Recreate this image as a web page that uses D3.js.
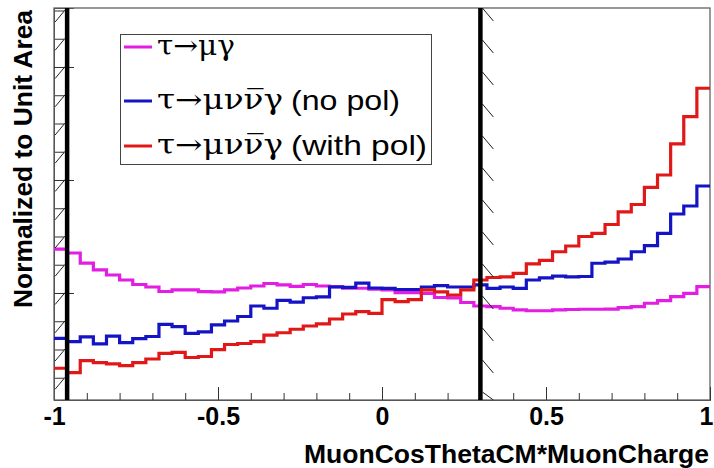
<!DOCTYPE html>
<html><head><meta charset="utf-8">
<script src="https://cdn.jsdelivr.net/npm/d3@7"></script>
<style>
html,body{margin:0;padding:0;background:#fff;}
svg{display:block;}
</style></head>
<body>
<svg id="chart" width="714" height="468"></svg>
<script>
// ---------- data ----------
const xRange = [-1, 1];
const nBins = 50;
const yRange = [0.01053, 0.04522];
const xMajorTicks = [-1, -0.5, 0, 0.5, 1];
const xTickLabels = ["-1", "-0.5", "0", "0.5", "1"];
const yMajorTicks = [0.02, 0.03, 0.04];
const cutValues = [-0.96, 0.3];

const muGamma = [0.02389,0.02354,0.02265,0.02204,0.02159,0.02115,0.02075,0.02053,0.02013,0.02027,
0.02027,0.02012,0.02009,0.02027,0.02044,0.02062,0.02084,0.02071,0.02058,0.02075,
0.02062,0.02056,0.02042,0.02042,0.02033,0.02027,0.02003,0.02003,0.01997,0.01960,
0.01956,0.01916,0.01885,0.01879,0.01865,0.01850,0.01843,0.01843,0.01850,0.01854,
0.01856,0.01856,0.01858,0.01870,0.01879,0.01909,0.01932,0.01967,0.01997,0.02056];

const noPol = [0.01599,0.01569,0.01611,0.01549,0.01619,0.01560,0.01597,0.01615,0.01723,0.01702,
0.01642,0.01655,0.01717,0.01752,0.01792,0.01885,0.01865,0.01934,0.01920,0.01958,
0.01965,0.02053,0.02049,0.02088,0.02044,0.02040,0.02031,0.02031,0.02053,0.02066,
0.02053,0.02053,0.02071,0.02040,0.02053,0.02040,0.02115,0.02133,0.02150,0.02142,
0.02146,0.02263,0.02274,0.02301,0.02365,0.02420,0.02527,0.02699,0.02770,0.02947];

const withPol = [0.01334,0.01295,0.01401,0.01383,0.01372,0.01357,0.01383,0.01416,0.01466,0.01475,
0.01429,0.01438,0.01498,0.01544,0.01553,0.01570,0.01628,0.01648,0.01679,0.01708,
0.01726,0.01770,0.01814,0.01835,0.01820,0.01942,0.01923,0.01941,0.02027,0.02009,
0.01982,0.02027,0.02115,0.02137,0.02142,0.02173,0.02257,0.02288,0.02365,0.02416,
0.02500,0.02528,0.02606,0.02717,0.02783,0.02935,0.03044,0.03319,0.03560,0.03812];

const seriesNames = ["τ→μγ", "τ→μνν\u0305γ", "τ→μνν\u0305γ"];
const seriesSuffix = ["", "(no pol)", "(with pol)"];
const seriesColors = ["#e21ee2", "#1414c4", "#e01818"];
const xTitle = "MuonCosThetaCM*MuonCharge";
const yTitle = "Normalized to Unit Area";

// ---------- layout ----------
const svg = d3.select("#chart");
const L = 54, R = 710, T = 8, B = 400;
const x = d3.scaleLinear().domain(xRange).range([L, R]);
const y = d3.scaleLinear().domain(yRange).range([B, T]);
const binW = (xRange[1] - xRange[0]) / nBins;
const edges = d3.range(nBins + 1).map(i => xRange[0] + i * binW);

svg.append("defs").append("clipPath").attr("id", "clip")
  .append("rect").attr("x", L).attr("y", T).attr("width", R - L).attr("height", B - T);

// frame
svg.append("rect").attr("x", L).attr("y", T).attr("width", R - L).attr("height", B - T)
  .attr("fill", "none").attr("stroke", "#555").attr("stroke-width", 1.2);

// x axis ticks
const xMinor = d3.range(0, 21).map(i => -1 + i * 0.1);
const gxMin = svg.append("g").attr("transform", `translate(0,${B})`)
  .call(d3.axisBottom(x).tickValues(xMinor).tickSize(-7).tickFormat(""));
const gxMaj = svg.append("g").attr("transform", `translate(0,${B})`)
  .call(d3.axisBottom(x).tickValues(xMajorTicks).tickSize(-13).tickPadding(7)
    .tickFormat((d, i) => xTickLabels[i]));
[gxMin, gxMaj].forEach(g => { g.select(".domain").attr("stroke", "#555"); g.selectAll("line").attr("stroke", "#333"); });
gxMaj.selectAll("text").attr("font-family", "Liberation Sans, Arial, sans-serif")
  .attr("font-weight", "bold").attr("font-size", 25).attr("fill", "#000");
gxMaj.selectAll("text").filter(d => d === xRange[1]).attr("text-anchor", "end").attr("dx", 3);

// y axis ticks
const yMinor = d3.range(0, 14).map(i => 0.0125 + i * 0.0025);
const gyMin = svg.append("g").attr("transform", `translate(${L},0)`)
  .call(d3.axisLeft(y).tickValues(yMinor).tickSize(-10).tickFormat(""));
const gyMaj = svg.append("g").attr("transform", `translate(${L},0)`)
  .call(d3.axisLeft(y).tickValues(yMajorTicks).tickSize(-20).tickFormat(""));
[gyMin, gyMaj].forEach(g => { g.select(".domain").attr("stroke", "#555"); g.selectAll("line").attr("stroke", "#333"); });

// histograms
const step = d3.line().x(d => x(d[0])).y(d => y(d[1])).curve(d3.curveStepAfter);
const gh = svg.append("g").attr("clip-path", "url(#clip)");
[muGamma, noPol, withPol].forEach((vals, k) => {
  const pts = vals.map((v, i) => [edges[i], v]);
  pts.push([edges[nBins], vals[nBins - 1]]);
  gh.append("path").attr("d", step(pts)).attr("fill", "none")
    .attr("stroke", seriesColors[k]).attr("stroke-width", 3.2).attr("stroke-linejoin", "miter");
});

// cut lines with hatching
const xl = x(cutValues[0]), xr = x(cutValues[1]);
const gc = svg.append("g");
for (let yy = 10; yy < B - 2; yy += 28.25) {
  gc.append("line").attr("x1", xl - 12).attr("y1", Math.min(yy + 12, B)).attr("x2", xl - 2).attr("y2", yy)
    .attr("stroke", "#222").attr("stroke-width", 1);
}
for (let yy = 8; yy < B - 2; yy += 32) {
  gc.append("line").attr("x1", xr + 2).attr("y1", yy).attr("x2", xr + 13).attr("y2", Math.min(yy + 13, B))
    .attr("stroke", "#222").attr("stroke-width", 1);
}
[xl, xr].forEach(xx => gc.append("line").attr("x1", xx).attr("x2", xx).attr("y1", T).attr("y2", B)
  .attr("stroke", "#000").attr("stroke-width", 4.5));

// titles
svg.append("text").attr("x", 709).attr("y", 463).attr("text-anchor", "end")
  .attr("font-family", "Liberation Sans, Arial, sans-serif").attr("font-weight", "bold")
  .attr("font-size", 25).attr("textLength", 405).attr("lengthAdjust", "spacingAndGlyphs").text(xTitle);
svg.append("text").attr("transform", "translate(32,10) rotate(-90)").attr("text-anchor", "end")
  .attr("font-family", "Liberation Sans, Arial, sans-serif").attr("font-weight", "bold")
  .attr("font-size", 26).attr("textLength", 298).attr("lengthAdjust", "spacingAndGlyphs").text(yTitle);

// legend
svg.append("rect").attr("x", 120.5).attr("y", 34.5).attr("width", 311).attr("height", 130)
  .attr("fill", "#fff").attr("stroke", "#444").attr("stroke-width", 1);
const rowsY = [47, 101, 146];
const greekW = [78, 126, 126];
const suffixW = [0, 109, 136];
rowsY.forEach((ry, k) => {
  svg.append("line").attr("x1", 124).attr("x2", 152).attr("y1", ry).attr("y2", ry)
    .attr("stroke", seriesColors[k]).attr("stroke-width", 3);
  svg.append("text").attr("x", 157).attr("y", ry + 8)
    .attr("font-family", "DejaVu Serif, Liberation Serif, serif").attr("font-size", 27)
    .attr("textLength", greekW[k]).attr("lengthAdjust", "spacingAndGlyphs").text(seriesNames[k]);
  if (seriesSuffix[k]) {
    svg.append("text").attr("x", 291).attr("y", ry + 9)
      .attr("font-family", "Liberation Sans, Arial, sans-serif").attr("font-size", 28)
      .attr("textLength", suffixW[k]).attr("lengthAdjust", "spacingAndGlyphs").text(seriesSuffix[k]);
  }
});
</script>
</body></html>
